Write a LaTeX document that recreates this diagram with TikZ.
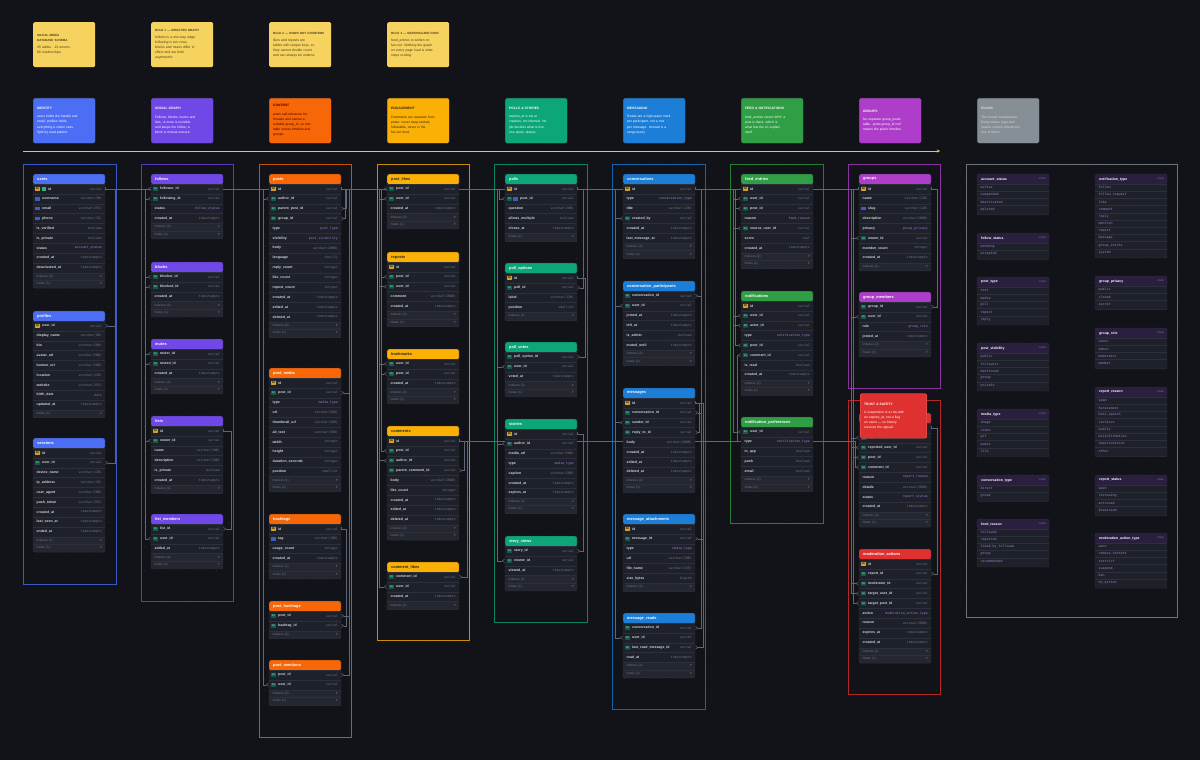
\documentclass[tikz,border=0pt]{standalone}
\usepackage{fontspec}
\setmainfont{Liberation Sans}
\setmonofont{DejaVu Sans Mono}
\newfontfamily\symf{DejaVu Sans}
\usepackage{tikz}
\usetikzlibrary{positioning,arrows.meta}

\pgfdeclarelayer{bg}
\pgfdeclarelayer{edges}
\pgfsetlayers{bg,edges,main}

\definecolor{canvas}{HTML}{111318}
\definecolor{gridc}{HTML}{1F2229}
\definecolor{tbody}{HTML}{1E2129}
\definecolor{tfoot}{HTML}{24272F}
\definecolor{tline}{HTML}{2C303A}
\definecolor{ctext}{HTML}{D2D6DE}
\definecolor{ty}{HTML}{6E7687}
\definecolor{en}{HTML}{9E7FE0}
\definecolor{edgec}{HTML}{5E6779}
\definecolor{pkc}{HTML}{D4A12A}
\definecolor{fkc}{HTML}{17584A}
\definecolor{fkt}{HTML}{5FE3B5}
\definecolor{uqc}{HTML}{3B5CC4}
\definecolor{ixc}{HTML}{2FAE8C}
\definecolor{cId}{HTML}{4C6EF5}
\definecolor{cSoc}{HTML}{7048E8}
\definecolor{cCon}{HTML}{F76707}
\definecolor{cEng}{HTML}{FAB005}
\definecolor{cPol}{HTML}{0CA678}
\definecolor{cMsg}{HTML}{1C7ED6}
\definecolor{cFed}{HTML}{2F9E44}
\definecolor{cGrp}{HTML}{AE3EC9}
\definecolor{cMod}{HTML}{E03131}
\definecolor{cEnm}{HTML}{868E96}
\definecolor{enumhd}{HTML}{2A1F3F}
\definecolor{stickyc}{HTML}{F5D35E}
\definecolor{stickyt}{HTML}{4A3F1A}
\definecolor{tlc}{HTML}{E8C547}

\tikzset{
  tblhead/.style={anchor=north west,text width=64pt,align=left,inner xsep=4pt,inner ysep=0pt,
    minimum height=10pt,rounded corners=1.5pt,font=\fontsize{3.9}{4.5}\selectfont\bfseries},
  hid/.style={fill=cId,text=white},
  hsoc/.style={fill=cSoc,text=white},
  hcon/.style={fill=cCon,text=white},
  heng/.style={fill=cEng,text=black!85},
  hpol/.style={fill=cPol,text=white},
  hmsg/.style={fill=cMsg,text=white},
  hfed/.style={fill=cFed,text=white},
  hgrp/.style={fill=cGrp,text=white},
  hmod/.style={fill=cMod,text=white},
  rowbox/.style={minimum width=72pt,minimum height=9.85pt,inner sep=0pt},
  colname/.style={inner sep=0pt,text=ctext,font=\fontsize{3.5}{4}\selectfont\bfseries},
  coltype/.style={inner sep=0pt,font=\fontsize{3.2}{4}\ttfamily},
  foottext/.style={inner sep=0pt,text=ty,font=\fontsize{3.2}{4}\selectfont},
  pkbadge/.style={fill=pkc,text=black,inner sep=0pt,minimum width=5pt,minimum height=4pt,
    rounded corners=0.5pt,font=\fontsize{2.4}{3}\selectfont\bfseries},
  fkbadge/.style={fill=fkc,text=fkt,inner sep=0pt,minimum width=5pt,minimum height=4pt,
    rounded corners=0.5pt,font=\fontsize{2.4}{3}\selectfont\bfseries},
  uqbadge/.style={fill=uqc,inner sep=0pt,minimum width=4.5pt,minimum height=3.5pt},
  ixbadge/.style={fill=ixc,inner sep=0pt,minimum width=4pt,minimum height=3.5pt},
  enumhead/.style={anchor=north west,fill=enumhd,text=white,text width=64pt,align=left,
    inner xsep=4pt,inner ysep=0pt,minimum height=10pt,rounded corners=1.5pt,
    font=\fontsize{3.5}{4}\selectfont\bfseries},
  enumtag/.style={inner sep=0pt,text=ty,font=\fontsize{2.8}{3}\ttfamily},
  enumval/.style={anchor=west,inner sep=0pt,text=en,font=\fontsize{3.3}{4}\ttfamily},
  sticky/.style={anchor=north west,fill=stickyc,text=stickyt,text width=54pt,inner sep=4pt,
    minimum height=45pt,rounded corners=1.5pt,align=left,font=\fontsize{3.4}{5}\selectfont},
  catnote/.style={anchor=north west,text width=54pt,inner sep=4pt,minimum height=45pt,
    rounded corners=1.5pt,align=left,draw=white!25!black,line width=0.3pt,
    font=\fontsize{3.3}{5.2}\selectfont},
  grpframe/.style={draw=#1!80!black,line width=0.75pt},
  gridline/.style={draw=gridc,line width=0.7pt,dash pattern=on 0.7pt off 11.3pt},
  timeline/.style={draw=tlc,line width=0.8pt,-{Stealth[length=3pt,width=3pt]}},
  rel/.style={draw=edgec,line width=0.55pt,
    {Bar[width=3pt,line width=0.5pt]}-{Straight Barb[reversed,length=2.2pt,width=3.4pt,line width=0.5pt]}},
}

% small title line in the notes
\newcommand\notetitle[1]{{\fontsize{3.0}{4.5}\selectfont\bfseries #1}}

% row keys: p = PK, pi = PK + index, f = FK, fu = FK + unique, u = unique, n = none
\newcommand\keyp[3]{\def\nameoff{9}\node[pkbadge] (#3) at (#1+4.5,#2) {PK};}
\newcommand\keypi[3]{\def\nameoff{15}\node[pkbadge] (#3) at (#1+4.5,#2) {PK};
  \node[ixbadge] (#3i) at (#1+10.5,#2) {};}
\newcommand\keyf[3]{\def\nameoff{9}\node[fkbadge] (#3) at (#1+4.5,#2) {FK};}
\newcommand\keyfu[3]{\def\nameoff{15}\node[fkbadge] (#3) at (#1+4.5,#2) {FK};
  \node[uqbadge] (#3u) at (#1+10.5,#2) {};}
\newcommand\keyu[3]{\def\nameoff{9}\node[uqbadge] (#3) at (#1+4.5,#2) {};}
\newcommand\keyn[3]{\def\nameoff{3.5}}

% #1 name, #2 x, #3 y, #4 header style, #5 rows, #6 footer rows
\newcommand\dbtable[6]{%
  \node[tblhead,#4] (#1) at (#2,#3) {#1};
  \foreach \rk/\rn/\rt/\rc [count=\i] in {#5}{%
    \pgfmathsetmacro\ry{#3+10+(\i-1)*9.85}
    \fill[tbody] (#2,\ry) rectangle ++(72,9.85);
    \draw[tline,line width=0.3pt] (#2,\ry) -- ++(72,0);
    \node[rowbox] (#1-\rn) at (#2+36,\ry+4.925) {};
    \csname key\rk\endcsname{#2}{\ry+4.925}{#1-\rn-k}
    \node[colname,anchor=west] (#1-\rn-n) at (#2+\nameoff,\ry+4.925) {\rn};
    \node[coltype,text=\rc,anchor=east] (#1-\rn-t) at (#2+69,\ry+4.925) {\rt};
    \xdef\nrows{\i}
  }
  \foreach \f [count=\j] in {#6}{%
    \pgfmathsetmacro\fy{#3+10+\nrows*9.85+(\j-1)*7.4}
    \fill[tfoot] (#2,\fy) rectangle ++(72,7.4);
    \draw[tline,line width=0.3pt] (#2,\fy) -- ++(72,0);
    \node[foottext,anchor=west] (#1-f\j) at (#2+3.5,\fy+3.7) {\f};
    \node[foottext,anchor=east] (#1-g\j) at (#2+69,\fy+3.7) {\symf ▾};
    \xdef\nfoot{\j}
  }
  \pgfmathsetmacro\tb{#3+10+\nrows*9.85+\nfoot*7.4+0.6}
  \fill[tfoot] (#2,\tb-0.6) rectangle (#2+72,\tb);
  \draw[tline,line width=0.4pt,rounded corners=1.5pt] (#2,#3) rectangle (#2+72,\tb);
}

% #1 name, #2 x, #3 y, #4 values
\newcommand\enumtbl[4]{%
  \node[enumhead] (#1) at (#2,#3) {#1};
  \node[enumtag,anchor=east] (#1-tag) at (#2+69,#3+5) {enum};
  \foreach \v [count=\i] in {#4}{%
    \pgfmathsetmacro\vy{#3+10+(\i-1)*7.2}
    \fill[tbody] (#2,\vy) rectangle ++(72,7.2);
    \draw[tline,line width=0.3pt] (#2,\vy) -- ++(72,0);
    \node[enumval] (#1-\v) at (#2+3.5,\vy+3.6) {\v};
    \xdef\nvals{\i}
  }
  \pgfmathsetmacro\eb{#3+10+\nvals*7.2+2}
  \fill[tbody] (#2,\eb-2) rectangle (#2+72,\eb);
  \draw[tline,line width=0.4pt,rounded corners=1.5pt] (#2,#3) rectangle (#2+72,\eb);
}

% connectors: #1 referenced row, #2 referencing row, #3 bus offset
\newcommand\fkR[3]{\draw[rel] (#1.east) -| ([xshift=-#3pt]#2.west) -- (#2.west);}
\newcommand\fkL[3]{\draw[rel] (#1.west) -| ([xshift=#3pt]#2.east) -- (#2.east);}
\newcommand\fkS[3]{\draw[rel] (#1.east) -- ++(#3pt,0) |- (#2.east);}

\begin{document}
\catcode`\_=12
\begin{tikzpicture}[x=1pt,y=-1pt]
\useasboundingbox (0,0) rectangle (1200,760);

\begin{pgfonlayer}{bg}
\fill[canvas] (0,0) rectangle (1200,760);
\foreach \gy in {6,18,...,754}{\draw[gridline] (0,\gy) -- (1200,\gy);}
% group frames
\draw[grpframe=cId] (23,164) rectangle (116,584);
\draw[grpframe=cSoc] (141,164) rectangle (233,601);
\draw[grpframe=cCon] (259,164) rectangle (351,737);
\draw[grpframe=cEng] (377,164) rectangle (469,640);
\draw[grpframe=cPol] (494,164) rectangle (587,622);
\draw[grpframe=cMsg] (612,164) rectangle (705,709);
\draw[grpframe=cFed] (730,164) rectangle (823,523);
\draw[grpframe=cGrp] (848,164) rectangle (940,388);
\draw[grpframe=cMod] (848,400) rectangle (940,694);
\draw[grpframe=cEnm] (966,164) rectangle (1177,617);
\end{pgfonlayer}

% sticky notes
\node[sticky] (noteTitle) at (33,22) {\notetitle{SOCIAL MEDIA\\DATABASE SCHEMA}\\[2pt]35 tables · 13 enums\\66 relationships};
\node[sticky] (noteRule1) at (151,22) {\notetitle{RULE 1 — DIRECTED GRAPH}\\[2pt]follows is a one-way edge;\\following is two rows.\\blocks and mutes differ in\\effect and are both\\asymmetric.};
\node[sticky] (noteRule2) at (269,22) {\notetitle{RULE 2 — ROWS NOT COUNTERS}\\[2pt]likes and reposts are\\tables with unique keys, so\\they cannot double count\\and can always be undone.};
\node[sticky] (noteRule3) at (387,22) {\notetitle{RULE 3 — MATERIALIZED FEED}\\[2pt]feed_entries is written on\\fan-out. Walking the graph\\on every page load is what\\stops scaling.};

% category headers
\node[catnote,fill=cId,text=white] (catIdentity) at (33,98) {\textbf{IDENTITY}\\[3pt]users holds the handle and\\email; profiles holds\\everything a visitor sees.\\Split by read pattern.};
\node[catnote,fill=cSoc,text=white] (catSocial) at (151,98) {\textbf{SOCIAL GRAPH}\\[3pt]Follows, blocks, mutes and\\lists. A mute is invisible\\and keeps the follow; a\\block is mutual erasure.};
\node[catnote,fill=cCon,text=black!75!red] (catContent) at (269,98) {\textbf{CONTENT}\\[3pt]posts self-reference for\\threads and carries a\\nullable group_id, so one\\table serves timeline and\\groups.};
\node[catnote,fill=cEng,text=black!70!brown] (catEngage) at (387,98) {\textbf{ENGAGEMENT}\\[3pt]Comments are separate from\\posts: never deep-ranked,\\followable, never in the\\fan-out feed.};
\node[catnote,fill=cPol,text=white] (catPolls) at (505,98) {\textbf{POLLS \& STORIES}\\[3pt]expires_at is set at\\creation, not inferred. No\\job decides what is live:\\one query, always.};
\node[catnote,fill=cMsg,text=white] (catMsg) at (623,98) {\textbf{MESSAGING}\\[3pt]Reads are a high-water mark\\per participant, not a row\\per message. Unread is a\\range query.};
\node[catnote,fill=cFed,text=white] (catFeed) at (741,98) {\textbf{FEED \& NOTIFICATIONS}\\[3pt]feed_entries stores WHY a\\post is there, which is\\what lets the UI explain\\itself.};
\node[catnote,fill=cGrp,text=white] (catGroups) at (859,98) {\textbf{GROUPS}\\[3pt]No separate group_posts\\table. posts.group_id null\\means the public timeline.};
\node[catnote,fill=cEnm,text=white!85!black] (catEnums) at (977,98) {\textbf{ENUMS}\\[3pt]The closed vocabularies.\\Every status, type and\\reason column references\\one of these.};

\coordinate (tlStart) at (23,151);
\coordinate (tlEnd) at (940,151);
\draw[timeline] (tlStart) -- (tlEnd);

% identity
\dbtable{users}{33}{174}{hid}{%
pi/id/serial/ty,u/username/varchar(30)/ty,u/email/varchar(255)/ty,u/phone/varchar(32)/ty,%
n/is_verified/boolean/ty,n/is_private/boolean/ty,n/status/account_status/en,%
n/created_at/timestamptz/ty,n/deactivated_at/timestamptz/ty}{Indexes (3),Notes (1)}
\dbtable{profiles}{33}{311}{hid}{%
p/user_id/serial/ty,n/display_name/varchar(80)/ty,n/bio/varchar(500)/ty,%
n/avatar_url/varchar(500)/ty,n/banner_url/varchar(500)/ty,n/location/varchar(120)/ty,%
n/website/varchar(255)/ty,n/birth_date/date/ty,n/updated_at/timestamptz/ty}{Notes (1)}
\dbtable{sessions}{33}{438}{hid}{%
p/id/serial/ty,f/user_id/serial/ty,n/device_name/varchar(120)/ty,n/ip_address/varchar(45)/ty,%
n/user_agent/varchar(500)/ty,n/push_token/varchar(255)/ty,n/created_at/timestamptz/ty,%
n/last_seen_at/timestamptz/ty,n/ended_at/timestamptz/ty}{Indexes (1),Notes (1)}

% social graph
\dbtable{follows}{151}{174}{hsoc}{%
f/follower_id/serial/ty,f/following_id/serial/ty,n/status/follow_status/en,%
n/created_at/timestamptz/ty}{Indexes (2),Notes (1)}
\dbtable{blocks}{151}{262}{hsoc}{%
f/blocker_id/serial/ty,f/blocked_id/serial/ty,n/created_at/timestamptz/ty}{Indexes (2),Notes (1)}
\dbtable{mutes}{151}{339}{hsoc}{%
f/muter_id/serial/ty,f/muted_id/serial/ty,n/created_at/timestamptz/ty}{Indexes (1),Notes (1)}
\dbtable{lists}{151}{416}{hsoc}{%
p/id/serial/ty,f/owner_id/serial/ty,n/name/varchar(100)/ty,n/description/varchar(280)/ty,%
n/is_private/boolean/ty,n/created_at/timestamptz/ty}{Indexes (1)}
\dbtable{list_members}{151}{514}{hsoc}{%
f/list_id/serial/ty,f/user_id/serial/ty,n/added_at/timestamptz/ty}{Indexes (1),Notes (1)}

% content
\dbtable{posts}{269}{174}{hcon}{%
p/id/serial/ty,f/author_id/serial/ty,f/parent_post_id/serial/ty,f/group_id/serial/ty,%
n/type/post_type/en,n/visibility/post_visibility/en,n/body/varchar(2000)/ty,%
n/language/char(2)/ty,n/reply_count/integer/ty,n/like_count/integer/ty,%
n/repost_count/integer/ty,n/created_at/timestamptz/ty,n/edited_at/timestamptz/ty,%
n/deleted_at/timestamptz/ty}{Indexes (4),Notes (1)}
\dbtable{post_media}{269}{368}{hcon}{%
p/id/serial/ty,f/post_id/serial/ty,n/type/media_type/en,n/url/varchar(500)/ty,%
n/thumbnail_url/varchar(500)/ty,n/alt_text/varchar(500)/ty,n/width/integer/ty,%
n/height/integer/ty,n/duration_seconds/integer/ty,n/position/smallint/ty}{Indexes (1),Notes (1)}
\dbtable{hashtags}{269}{514}{hcon}{%
p/id/serial/ty,u/tag/varchar(100)/ty,n/usage_count/integer/ty,%
n/created_at/timestamptz/ty}{Indexes (1),Notes (1)}
\dbtable{post_hashtags}{269}{601}{hcon}{%
f/post_id/serial/ty,f/hashtag_id/serial/ty}{Indexes (2)}
\dbtable{post_mentions}{269}{660}{hcon}{%
f/post_id/serial/ty,f/user_id/serial/ty}{Indexes (2),Notes (1)}

% engagement
\dbtable{post_likes}{387}{174}{heng}{%
f/post_id/serial/ty,f/user_id/serial/ty,n/created_at/timestamptz/ty}{Indexes (2),Notes (1)}
\dbtable{reposts}{387}{252}{heng}{%
p/id/serial/ty,f/post_id/serial/ty,f/user_id/serial/ty,n/comment/varchar(2000)/ty,%
n/created_at/timestamptz/ty}{Indexes (2),Notes (1)}
\dbtable{bookmarks}{387}{349}{heng}{%
f/user_id/serial/ty,f/post_id/serial/ty,n/created_at/timestamptz/ty}{Indexes (2),Notes (1)}
\dbtable{comments}{387}{426}{heng}{%
p/id/serial/ty,f/post_id/serial/ty,f/author_id/serial/ty,f/parent_comment_id/serial/ty,%
n/body/varchar(2000)/ty,n/like_count/integer/ty,n/created_at/timestamptz/ty,%
n/edited_at/timestamptz/ty,n/deleted_at/timestamptz/ty}{Indexes (2),Notes (1)}
\dbtable{comment_likes}{387}{562}{heng}{%
f/comment_id/serial/ty,f/user_id/serial/ty,n/created_at/timestamptz/ty}{Indexes (1)}

% polls and stories
\dbtable{polls}{505}{174}{hpol}{%
p/id/serial/ty,fu/post_id/serial/ty,n/question/varchar(280)/ty,%
n/allows_multiple/boolean/ty,n/closes_at/timestamptz/ty}{Notes (1)}
\dbtable{poll_options}{505}{263}{hpol}{%
p/id/serial/ty,f/poll_id/serial/ty,n/label/varchar(120)/ty,n/position/smallint/ty}{Indexes (1)}
\dbtable{poll_votes}{505}{342}{hpol}{%
f/poll_option_id/serial/ty,f/user_id/serial/ty,n/voted_at/timestamptz/ty}{Indexes (2),Notes (1)}
\dbtable{stories}{505}{419}{hpol}{%
p/id/serial/ty,f/author_id/serial/ty,n/media_url/varchar(500)/ty,n/type/media_type/en,%
n/caption/varchar(500)/ty,n/created_at/timestamptz/ty,n/expires_at/timestamptz/ty}{Indexes (2),Notes (1)}
\dbtable{story_views}{505}{536}{hpol}{%
f/story_id/serial/ty,f/viewer_id/serial/ty,n/viewed_at/timestamptz/ty}{Indexes (1),Notes (1)}

% messaging
\dbtable{conversations}{623}{174}{hmsg}{%
p/id/serial/ty,n/type/conversation_type/en,n/title/varchar(120)/ty,f/created_by/serial/ty,%
n/created_at/timestamptz/ty,n/last_message_at/timestamptz/ty}{Indexes (1),Notes (1)}
\dbtable{conversation_participants}{623}{281}{hmsg}{%
f/conversation_id/serial/ty,f/user_id/serial/ty,n/joined_at/timestamptz/ty,%
n/left_at/timestamptz/ty,n/is_admin/boolean/ty,n/muted_until/timestamptz/ty}{Indexes (2),Notes (1)}
\dbtable{messages}{623}{388}{hmsg}{%
p/id/serial/ty,f/conversation_id/serial/ty,f/sender_id/serial/ty,f/reply_to_id/serial/ty,%
n/body/varchar(4000)/ty,n/created_at/timestamptz/ty,n/edited_at/timestamptz/ty,%
n/deleted_at/timestamptz/ty}{Indexes (1),Notes (1)}
\dbtable{message_attachments}{623}{514}{hmsg}{%
p/id/serial/ty,f/message_id/serial/ty,n/type/media_type/en,n/url/varchar(500)/ty,%
n/file_name/varchar(255)/ty,n/size_bytes/bigint/ty}{Indexes (1)}
\dbtable{message_reads}{623}{613}{hmsg}{%
f/conversation_id/serial/ty,f/user_id/serial/ty,f/last_read_message_id/serial/ty,%
n/read_at/timestamptz/ty}{Indexes (1),Notes (1)}

% feed and notifications
\dbtable{feed_entries}{741}{174}{hfed}{%
p/id/serial/ty,f/user_id/serial/ty,f/post_id/serial/ty,n/reason/feed_reason/en,%
f/source_user_id/serial/ty,n/score/real/ty,n/created_at/timestamptz/ty}{Indexes (2),Notes (1)}
\dbtable{notifications}{741}{291}{hfed}{%
p/id/serial/ty,f/user_id/serial/ty,f/actor_id/serial/ty,n/type/notification_type/en,%
f/post_id/serial/ty,f/comment_id/serial/ty,n/is_read/boolean/ty,%
n/created_at/timestamptz/ty}{Indexes (1),Notes (1)}
\dbtable{notification_preferences}{741}{417}{hfed}{%
f/user_id/serial/ty,n/type/notification_type/en,n/in_app/boolean/ty,n/push/boolean/ty,%
n/email/boolean/ty}{Indexes (1),Notes (1)}

% groups and moderation
\dbtable{groups}{859}{174}{hgrp}{%
p/id/serial/ty,n/name/varchar(120)/ty,u/slug/varchar(120)/ty,n/description/varchar(1000)/ty,%
n/privacy/group_privacy/en,f/owner_id/serial/ty,n/member_count/integer/ty,%
n/created_at/timestamptz/ty}{Indexes (1)}
\dbtable{group_members}{859}{292}{hgrp}{%
f/group_id/serial/ty,f/user_id/serial/ty,n/role/group_role/en,%
n/joined_at/timestamptz/ty}{Indexes (2),Notes (1)}
\dbtable{reports}{859}{413}{hmod}{%
p/id/serial/ty,f/reporter_id/serial/ty,f/reported_user_id/serial/ty,f/post_id/serial/ty,%
f/comment_id/serial/ty,n/reason/report_reason/en,n/details/varchar(2000)/ty,%
n/status/report_status/en,n/created_at/timestamptz/ty}{Indexes (2),Notes (1)}
\dbtable{moderation_actions}{859}{549}{hmod}{%
p/id/serial/ty,f/report_id/serial/ty,f/moderator_id/serial/ty,f/target_user_id/serial/ty,%
f/target_post_id/serial/ty,n/action/moderation_action_type/en,n/reason/varchar(2000)/ty,%
n/expires_at/timestamptz/ty,n/created_at/timestamptz/ty}{Indexes (1),Notes (1)}

\node[anchor=north west,fill=cMod,text=white,text width=58.6pt,inner sep=4pt,minimum height=44.5pt,
  rounded corners=1.5pt,align=left,draw=white!30!cMod,line width=0.3pt,
  font=\fontsize{3.3}{5}\selectfont] (noteTrust) at (860,393.5)
  {\textbf{TRUST \& SAFETY}\\[3pt]A suspension is a row with\\an expires_at, not a flag\\on users — so history\\survives the appeal.};

% enums
\enumtbl{account_status}{977}{174}{active,suspended,deactivated,deleted}
\enumtbl{follow_status}{977}{233}{pending,accepted}
\enumtbl{post_type}{977}{277}{text,media,poll,repost,reply}
\enumtbl{post_visibility}{977}{343}{public,followers,mentioned,group,private}
\enumtbl{media_type}{977}{409}{image,video,gif,audio,file}
\enumtbl{conversation_type}{977}{475}{direct,group}
\enumtbl{feed_reason}{977}{519}{followed,reposted,liked_by_followee,group,recommended}
\enumtbl{notification_type}{1095}{174}{follow,follow_request,like,comment,reply,mention,repost,message,group_invite,system}
\enumtbl{group_privacy}{1095}{276}{public,closed,secret}
\enumtbl{group_role}{1095}{328}{owner,admin,moderator,member}
\enumtbl{report_reason}{1095}{387}{spam,harassment,hate_speech,violence,nudity,misinformation,impersonation,other}
\enumtbl{report_status}{1095}{475}{open,reviewing,actioned,dismissed}
\enumtbl{moderation_action_type}{1095}{533}{warn,remove_content,restrict,suspend,ban,no_action}

\begin{pgfonlayer}{edges}
% identity
\fkS{users-id}{profiles-user_id}{10}
\fkS{users-id}{sessions-user_id}{10}
% social graph
\fkR{users-id}{follows-follower_id}{6}
\fkR{users-id}{follows-following_id}{6}
\fkR{users-id}{blocks-blocker_id}{6}
\fkR{users-id}{blocks-blocked_id}{6}
\fkR{users-id}{mutes-muter_id}{6}
\fkR{users-id}{mutes-muted_id}{6}
\fkR{users-id}{lists-owner_id}{6}
\fkR{users-id}{list_members-user_id}{6}
\fkS{lists-id}{list_members-list_id}{8}
% content
\fkR{users-id}{posts-author_id}{6}
\fkR{users-id}{post_mentions-user_id}{6}
\fkS{posts-id}{posts-parent_post_id}{5}
\fkL{groups-id}{posts-group_id}{4}
\fkS{posts-id}{post_media-post_id}{8}
\fkS{posts-id}{post_hashtags-post_id}{8}
\fkS{hashtags-id}{post_hashtags-hashtag_id}{5}
\fkS{posts-id}{post_mentions-post_id}{8}
% engagement
\fkR{posts-id}{post_likes-post_id}{6}
\fkR{users-id}{post_likes-user_id}{8}
\fkR{posts-id}{reposts-post_id}{6}
\fkR{users-id}{reposts-user_id}{8}
\fkR{users-id}{bookmarks-user_id}{8}
\fkR{posts-id}{bookmarks-post_id}{6}
\fkR{posts-id}{comments-post_id}{6}
\fkR{users-id}{comments-author_id}{8}
\fkS{comments-id}{comments-parent_comment_id}{5}
\fkS{comments-id}{comment_likes-comment_id}{8}
\fkR{users-id}{comment_likes-user_id}{8}
% polls and stories
\fkR{posts-id}{polls-post_id}{6}
\fkS{polls-id}{poll_options-poll_id}{6}
\fkS{poll_options-id}{poll_votes-poll_option_id}{8}
\fkR{users-id}{poll_votes-user_id}{8}
\fkR{users-id}{stories-author_id}{8}
\fkS{stories-id}{story_views-story_id}{6}
\fkR{users-id}{story_views-viewer_id}{8}
% messaging
\fkR{users-id}{conversations-created_by}{8}
\fkS{conversations-id}{conversation_participants-conversation_id}{6}
\fkR{users-id}{conversation_participants-user_id}{8}
\fkS{conversations-id}{messages-conversation_id}{6}
\fkR{users-id}{messages-sender_id}{8}
\fkS{messages-id}{messages-reply_to_id}{4}
\fkS{messages-id}{message_attachments-message_id}{8}
\fkS{conversations-id}{message_reads-conversation_id}{6}
\fkR{users-id}{message_reads-user_id}{8}
\fkS{messages-id}{message_reads-last_read_message_id}{8}
% feed and notifications
\fkR{users-id}{feed_entries-user_id}{8}
\fkR{posts-id}{feed_entries-post_id}{6}
\fkR{users-id}{feed_entries-source_user_id}{8}
\fkR{users-id}{notifications-user_id}{8}
\fkR{users-id}{notifications-actor_id}{8}
\fkR{posts-id}{notifications-post_id}{6}
\fkR{comments-id}{notifications-comment_id}{4}
\fkR{users-id}{notification_preferences-user_id}{8}
% groups and moderation
\fkR{users-id}{groups-owner_id}{8}
\fkS{groups-id}{group_members-group_id}{6}
\fkR{users-id}{group_members-user_id}{8}
\fkR{users-id}{reports-reporter_id}{8}
\fkR{users-id}{reports-reported_user_id}{8}
\fkR{posts-id}{reports-post_id}{6}
\fkR{comments-id}{reports-comment_id}{4}
\fkS{reports-id}{moderation_actions-report_id}{6}
\fkR{users-id}{moderation_actions-moderator_id}{8}
\fkR{users-id}{moderation_actions-target_user_id}{8}
\fkR{posts-id}{moderation_actions-target_post_id}{6}
\end{pgfonlayer}
\end{tikzpicture}
\end{document}
